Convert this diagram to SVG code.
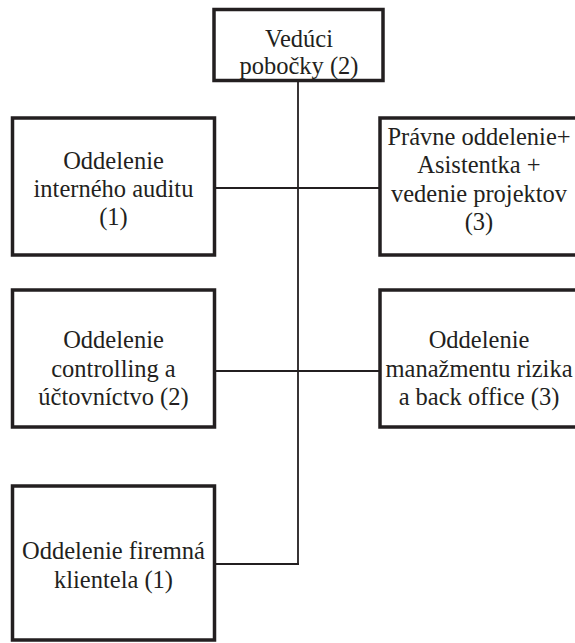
<svg xmlns="http://www.w3.org/2000/svg" width="575" height="643" viewBox="0 0 575 643">
<style>
.box{fill:#fff;stroke:#231f20;stroke-width:3.5}
.con{stroke:#231f20;stroke-width:1.8;fill:none}
text{font-family:"Liberation Serif",Tinos,"Times New Roman",Times,"Noto Serif","DejaVu Serif",FreeSerif,Georgia,serif;font-size:24.5px;fill:#231f20;text-anchor:middle}
</style>
<rect width="575" height="643" fill="#fff"/>
<g id="connectors">
<line class="con" x1="298" y1="81" x2="298" y2="565"/>
<line class="con" x1="214" y1="188" x2="380" y2="188"/>
<line class="con" x1="214" y1="371" x2="380" y2="371"/>
<line class="con" x1="214" y1="564" x2="298.9" y2="564"/>
</g>
<g id="n-veduci">
<rect class="box" x="214" y="9.5" width="169" height="71"/>
<text x="299" y="47">Vedúci</text>
<text x="299" y="74">pobočky (2)</text>
</g>
<g id="n-audit">
<rect class="box" x="12.5" y="118" width="202" height="137"/>
<text x="113.5" y="169">Oddelenie</text>
<text x="113.5" y="197">interného auditu</text>
<text x="113.5" y="225">(1)</text>
</g>
<g id="n-pravne">
<rect class="box" x="380" y="118" width="210" height="137"/>
<text x="479" y="145">Právne oddelenie+</text>
<text x="479" y="173">Asistentka +</text>
<text x="479" y="202">vedenie projektov</text>
<text x="479" y="230">(3)</text>
</g>
<g id="n-controlling">
<rect class="box" x="12.5" y="290" width="202" height="137"/>
<text x="113.5" y="348">Oddelenie</text>
<text x="113.5" y="377">controlling a</text>
<text x="113.5" y="405">účtovníctvo (2)</text>
</g>
<g id="n-riziko">
<rect class="box" x="380" y="290" width="210" height="137"/>
<text x="479" y="348">Oddelenie</text>
<text x="479" y="377">manažmentu rizika</text>
<text x="479" y="405">a back office (3)</text>
</g>
<g id="n-firemna">
<rect class="box" x="12.5" y="486" width="202" height="154"/>
<text x="113.5" y="559">Oddelenie firemná</text>
<text x="113.5" y="588">klientela (1)</text>
</g>
</svg>
